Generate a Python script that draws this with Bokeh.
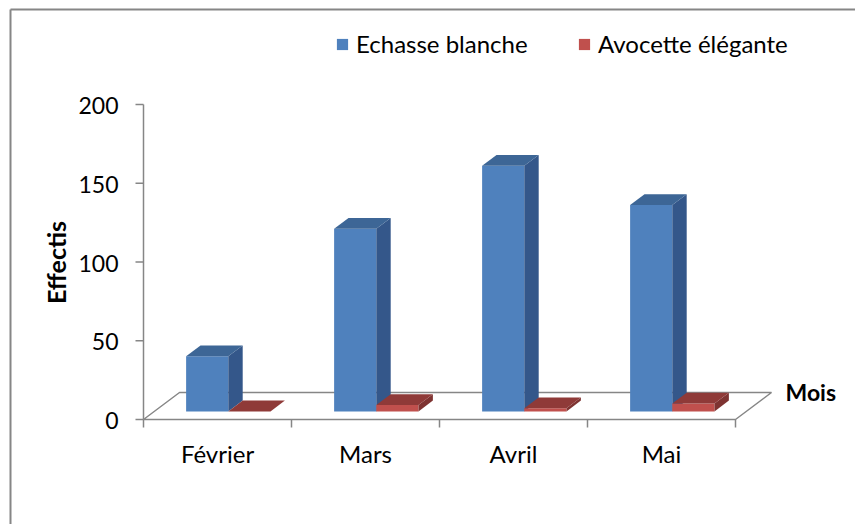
import math
from bokeh.plotting import figure
from bokeh.models import Range1d, Legend, LegendItem
from bokeh.core.properties import value
from bokeh.embed import file_html
from bokeh.resources import INLINE

# Monthly counts of two wader species
months = ["Février", "Mars", "Avril", "Mai"]
echasse = [35, 116, 156, 131]      # Echasse blanche
avocette = [0, 4, 2, 5]            # Avocette élégante
y_ticks = [0, 50, 100, 150, 200]

FONT = "Lato"
GRAY = "#868686"
W, H = 855, 524

# canvas placement of the chart origin and its scale (pixels per unit)
X0_PX, Y0_PX = 143, 419
PX_PER_CAT, PX_PER_VAL = 148, 1.575


def ux(px):
    """horizontal canvas pixel -> category units"""
    return (px - X0_PX) / PX_PER_CAT


def uy(py):
    """vertical canvas pixel -> value units"""
    return (Y0_PX - py) / PX_PER_VAL


# oblique projection of the 3-D floor (depth direction offset in data units)
DEPTH_DX = 36 / PX_PER_CAT
DEPTH_DY = 27 / PX_PER_VAL
BAR_W = 0.285
BAR_GAP = (1 - 2 * BAR_W) / 2
D_FRONT, D_BACK = 0.3, 0.7
TICK_X = 8 / PX_PER_CAT
TICK_Y = 8 / PX_PER_VAL

p = figure(width=W, height=H, output_backend="svg", toolbar_location=None,
           x_axis_location=None, y_axis_location=None, min_border=0,
           x_range=Range1d(ux(0), ux(W)), y_range=Range1d(uy(H), uy(0)))
p.outline_line_color = None
p.xgrid.visible = False
p.ygrid.visible = False
p.background_fill_color = "white"
p.border_fill_color = "white"

# chart area border (top and left edges)
p.segment(x0=[ux(10), ux(10)], y0=[uy(9), uy(9)], x1=[ux(W), ux(10)],
          y1=[uy(9), uy(H)], line_color=GRAY, line_width=2)

n = len(months)

# floor of the 3-D plot; its front edge doubles as the category axis line
p.patch([0, n, n + DEPTH_DX, DEPTH_DX], [0, 0, DEPTH_DY, DEPTH_DY],
        fill_color="white", line_color=GRAY, line_width=1.5)

# value axis
top_val = y_ticks[-1]
p.segment(x0=[0], y0=[0], x1=[0], y1=[top_val], line_color=GRAY, line_width=1.5)
p.segment(x0=[-TICK_X] * len(y_ticks), y0=y_ticks, x1=[0] * len(y_ticks),
          y1=y_ticks, line_color=GRAY, line_width=1.5)
p.text(x=[ux(118)] * len(y_ticks), y=[t - 1 / PX_PER_VAL for t in y_ticks],
       text=[str(t) for t in y_ticks], text_font=value(FONT),
       text_font_size="23px", text_color="black", text_align="right",
       text_baseline="alphabetic")
p.text(x=[ux(55)], y=[uy(262)], text=["Effectis"], angle=math.pi / 2,
       text_font=value(FONT), text_font_size="25px", text_font_style="bold",
       text_color="black", text_align="center", text_baseline="alphabetic")

# category axis ticks and names
bounds = list(range(n + 1))
p.segment(x0=bounds, y0=[0] * len(bounds), x1=bounds,
          y1=[-TICK_Y] * len(bounds), line_color=GRAY, line_width=1.5)
p.text(x=[i + 0.5 for i in range(n)], y=[uy(453)] * n, text=months,
       text_font=value(FONT), text_font_size="24px", text_color="black",
       text_align="center", text_baseline="alphabetic")
p.text(x=[ux(785)], y=[uy(391)], text=["Mois"], text_font=value(FONT),
       text_font_size="23px", text_font_style="bold", text_color="black",
       text_align="left", text_baseline="alphabetic")


def bar_faces(values, offset):
    fx0, fy0 = D_FRONT * DEPTH_DX, D_FRONT * DEPTH_DY
    bx0, by0 = D_BACK * DEPTH_DX, D_BACK * DEPTH_DY
    left, right, bottom, top = [], [], [], []
    side_x, side_y, top_x, top_y = [], [], [], []
    for i, v in enumerate(values):
        x0 = i + BAR_GAP + offset
        x1 = x0 + BAR_W
        left.append(x0 + fx0)
        right.append(x1 + fx0)
        bottom.append(fy0)
        top.append(v + fy0)
        side_x.append([x1 + fx0, x1 + bx0, x1 + bx0, x1 + fx0])
        side_y.append([fy0, by0, v + by0, v + fy0])
        top_x.append([x0 + fx0, x1 + fx0, x1 + bx0, x0 + bx0])
        top_y.append([v + fy0, v + fy0, v + by0, v + by0])
    return left, right, bottom, top, side_x, side_y, top_x, top_y


series = [
    ("Echasse blanche", echasse, 0.0, "#4F81BD", "#34578A", "#3D6696"),
    ("Avocette élégante", avocette, BAR_W, "#C0504D", "#7E3331", "#8F3A38"),
]

fronts = {}
for name, vals, off, c_front, c_side, c_top in series:
    l, r, b, t, sx, sy, tx, ty = bar_faces(vals, off)
    fr = p.quad(left=l, right=r, bottom=b, top=t, fill_color=c_front,
                line_color=None)
    p.patches(sx, sy, fill_color=c_side, line_color=None)
    p.patches(tx, ty, fill_color=c_top, line_color=None)
    fronts[name] = fr

# one legend per series, each at its own spot above the plot
for (name, *_), lx in zip(series, [335, 577]):
    leg = Legend(items=[LegendItem(label=name, renderers=[fronts[name]])],
                 location=(lx, H - 58), orientation="horizontal",
                 glyph_width=14, glyph_height=14, label_standoff=7,
                 label_height=14, padding=0, margin=0, spacing=0,
                 background_fill_alpha=0, border_line_color=None,
                 label_text_font=FONT, label_text_font_size="24px",
                 label_text_color="black")
    p.add_layout(leg, "center")

open("out.html", "w").write(file_html(p, INLINE))
